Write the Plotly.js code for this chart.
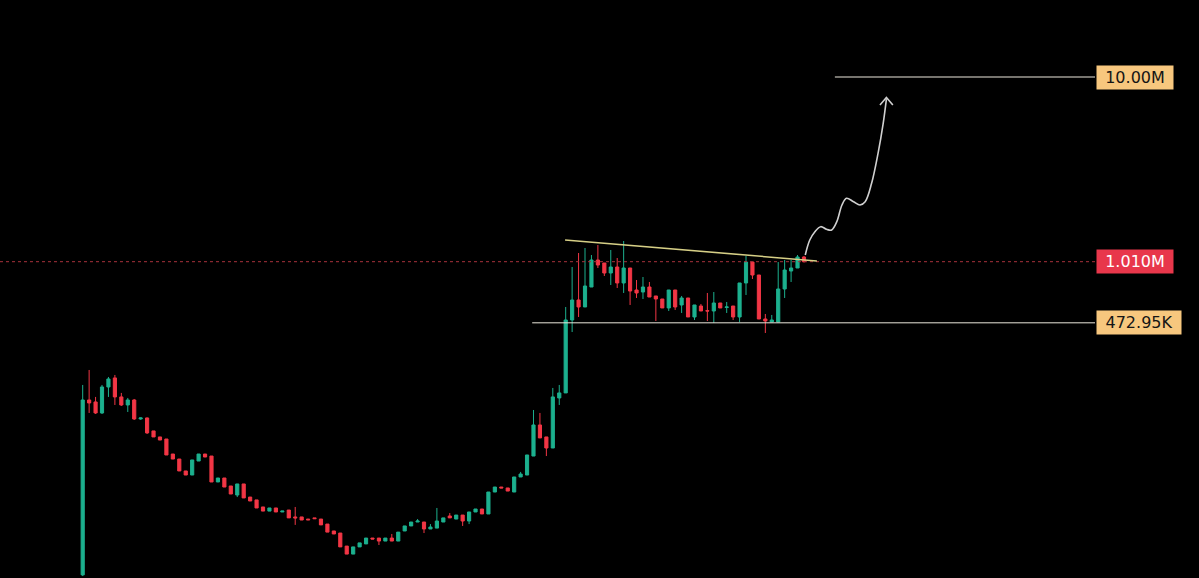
<!DOCTYPE html>
<html><head><meta charset="utf-8">
<script src="https://cdn.plot.ly/plotly-3.0.1.min.js"></script>
<style>html,body{margin:0;padding:0;background:#000;overflow:hidden}</style>
</head><body><div id="chart" style="width:1199px;height:578px"></div>
<script>
// Candle values in thousands (K)
const openK = [20.7,181.5,177.1,154.5,213.3,238.6,188.5,170.6,181.5,143.4,145.2,123.6,114.7,111.8,92.8,87.2,75.2,71.5,85.1,92.8,
90.5,65.6,68.9,62.4,55.8,64.0,54.4,52.5,48.1,45.7,47.5,45.2,46.3,42.5,42.5,41.4,42.0,41.4,38.9,35.7,
34.8,29.6,26.8,29.3,30.4,32.7,32.7,31.5,32.7,31.5,35.7,38.0,39.9,39.9,36.6,37.0,39.9,43.0,41.4,43.5,
40.4,45.2,46.9,44.1,57.9,61.6,60.9,57.9,69.8,71.5,90.5,133.1,114.7,100.0,186.1,198.1,489.9,627.9,575.7,737.8,
1031.5,994,877.9,945.7,775.5,934.1,710.9,693.4,737.8,660,635.8,568.8,710.9,590.2,643.7,508.5,582.7,550,547.8,605.0,
572,582.7,508.5,775.5,1006,856.3,496.0,478,478,719.8,899.5,934.1,1070.6];
const highK = [218.7,263.4,188.5,218.7,241.5,247.6,198.1,186.1,183.8,146.0,146.0,123.6,114.7,111.8,92.8,87.2,75.2,86.2,92.8,92.8,
90.5,68.9,68.9,62.4,64.0,64.0,54.4,52.5,48.1,47.5,47.5,45.7,46.3,48.1,42.5,41.4,42.0,41.4,38.9,35.7,
34.8,29.6,29.3,30.8,32.7,32.7,32.7,32.7,34.4,35.2,38.0,39.9,41.4,39.9,38.9,47.5,42.0,44.6,43.5,43.5,
45.2,46.9,46.9,57.9,61.6,61.6,60.9,69.8,74.3,91.7,160.3,154.5,114.7,210.7,218.7,575.7,945.7,1125,1197,1097,
1242.7,994,1168,1057.4,1305.9,934.1,804.8,835.3,785.1,660,635.8,710.9,710.9,660,643.7,590.2,597.6,685.0,693.4,605.0,
612.5,582.7,775.5,1084,1006,856.3,527.8,521.3,1006,1031.5,1031.5,1097.5,1084];
const lowK = [20.4,154.5,152.6,152.6,188.5,170.6,168.5,156.4,141.6,142.0,119.0,114.7,110.4,91.7,87.2,75.2,71.5,71.5,85.1,89.4,
65.6,65.6,61.6,56.5,54.4,53.8,51.8,47.5,45.7,45.7,45.2,45.2,42.0,38.5,40.9,41.0,41.6,38.5,35.2,34.4,
29.3,26.8,26.8,29.3,30.4,32.3,30.0,31.5,31.5,31.5,35.7,38.0,39.9,34.8,36.6,37.0,39.9,42.0,41.4,38.0,
38.9,45.2,44.1,44.1,57.9,60.9,58.6,57.9,69.8,71.5,90.5,113.3,90.5,100.0,170.6,198.1,421.9,508.5,575.7,737.8,
934.1,845.7,756.4,728.8,685.0,590.2,643.7,635.8,651.7,483.8,568.8,547.8,554.7,534.4,508.5,489.9,547.8,483.8,472.2,568.8,
534.4,489.9,478,668.1,814.9,496.0,416.9,478,478,643.7,785.1,934.1,1000];
const closeK = [181.5,174.9,154.5,213.3,235.6,188.5,170.6,181.5,143.4,145.2,120.6,114.7,110.4,91.7,87.2,75.2,71.5,86.2,92.8,89.4,
65.6,68.9,61.6,56.5,64.0,53.8,51.8,47.5,45.7,47.5,45.2,45.7,42.0,42.0,40.9,41.0,41.6,38.5,35.2,34.4,
29.3,26.8,29.3,30.8,32.7,32.3,31.5,32.7,31.5,35.2,38.0,39.9,40.4,36.6,37.5,40.4,42.0,42.0,43.5,40.4,
45.2,46.9,44.1,57.9,61.6,60.9,58.6,69.8,72.4,91.7,133.1,113.3,100.0,188.5,198.1,489.9,627.9,575.7,747.1,1031.5,
969.4,877.9,945.7,775.5,934.1,702.0,685.0,737.8,651.7,635.8,568.8,710.9,575.7,643.7,508.5,590.2,547.8,547.8,605.0,568.8,
576,508.5,775.5,1006,856.3,496.0,483.8,489.9,719.8,911.1,934.1,1070.6,1010];

// Price levels
const levelValues = [10.00e6, 1.010e6, 472.95e3];
const levelLabels = ['10.00M', '1.010M', '472.95K'];
// trend line (candle index, value)
const trendX = [74.9, 114.0];
const trendY = [1.322e6, 1.019e6];
// projected path (candle index, value)
const pathX = [112.2,112.9,113.7,114.6,115.5,116.3,117.1,117.9,118.6,119.7,120.7,121.5,122.5,123.5,124.3,124.8];
const pathY = [1.097e6,1.322e6,1.466e6,1.560e6,1.510e6,1.497e6,1.660e6,2.042e6,2.218e6,2.126e6,2.042e6,2.126e6,2.673e6,3.878e6,5.628e6,7.607e6];
const headX = [123.8,124.8,125.8];
const headY = [7.063e6,7.752e6,7.063e6];

const K = 1000;
const idx = openK.map((_, i) => i);
const xMin = -12.84, xMax = 157.19;

const traces = [
  {type:'scatter', mode:'lines', x:[xMin,xMax], y:[levelValues[1],levelValues[1]],
   line:{color:'#a8323c', width:1, dash:'dot'}, hoverinfo:'skip'},
  {type:'scatter', mode:'lines', x:[69.8,xMax], y:[levelValues[2],levelValues[2]],
   line:{color:'#ece8dc', width:1}, hoverinfo:'skip'},
  {type:'scatter', mode:'lines', x:[116.8,xMax], y:[levelValues[0],levelValues[0]],
   line:{color:'#ece8dc', width:1}, hoverinfo:'skip'},
  {type:'candlestick', x:idx,
   open:openK.map(v=>v*K), high:highK.map(v=>v*K), low:lowK.map(v=>v*K), close:closeK.map(v=>v*K),
   increasing:{line:{color:'#1cb08e', width:1}, fillcolor:'#1cb08e'},
   decreasing:{line:{color:'#f23645', width:1}, fillcolor:'#f23645'},
   whiskerwidth:0, hoverinfo:'skip'},
  {type:'scatter', mode:'lines', x:trendX, y:trendY,
   line:{color:'#d6cf86', width:1.5}, hoverinfo:'skip'},
  {type:'scatter', mode:'lines', x:pathX, y:pathY,
   line:{color:'#d0d0d0', width:1.6, shape:'spline', smoothing:1}, hoverinfo:'skip'},
  {type:'scatter', mode:'lines', x:headX, y:headY,
   line:{color:'#d0d0d0', width:1.6}, hoverinfo:'skip'}
];

const labelStyles = [
  {bg:'#f7c77e', fg:'#151515', w:72},
  {bg:'#e8374b', fg:'#ffffff', w:72},
  {bg:'#f7c77e', fg:'#151515', w:80}
];
const annotations = levelValues.map((v,i)=>({
  xref:'paper', x:1, xanchor:'left', xshift:1,
  yref:'y', y:Math.log10(v), yanchor:'middle',
  text:levelLabels[i], showarrow:false,
  bgcolor:labelStyles[i].bg, borderpad:2, width:labelStyles[i].w, height:19, align:'center',
  font:{family:'DejaVu Sans, sans-serif', size:16, color:labelStyles[i].fg}
}));

const layout = {
  width:1199, height:578,
  margin:{l:0, r:104, t:0, b:0},
  paper_bgcolor:'#000000', plot_bgcolor:'#000000',
  showlegend:false,
  xaxis:{range:[xMin,xMax], showgrid:false, zeroline:false, showticklabels:false, showline:false, ticks:'',
         rangeslider:{visible:false}, fixedrange:true},
  yaxis:{type:'log', range:[4.2992, 7.4151], showgrid:false, zeroline:false, showticklabels:false, showline:false, ticks:'', fixedrange:true},
  annotations:annotations,
  hovermode:false
};
Plotly.newPlot('chart', traces, layout, {displayModeBar:false, staticPlot:true});
</script></body></html>
